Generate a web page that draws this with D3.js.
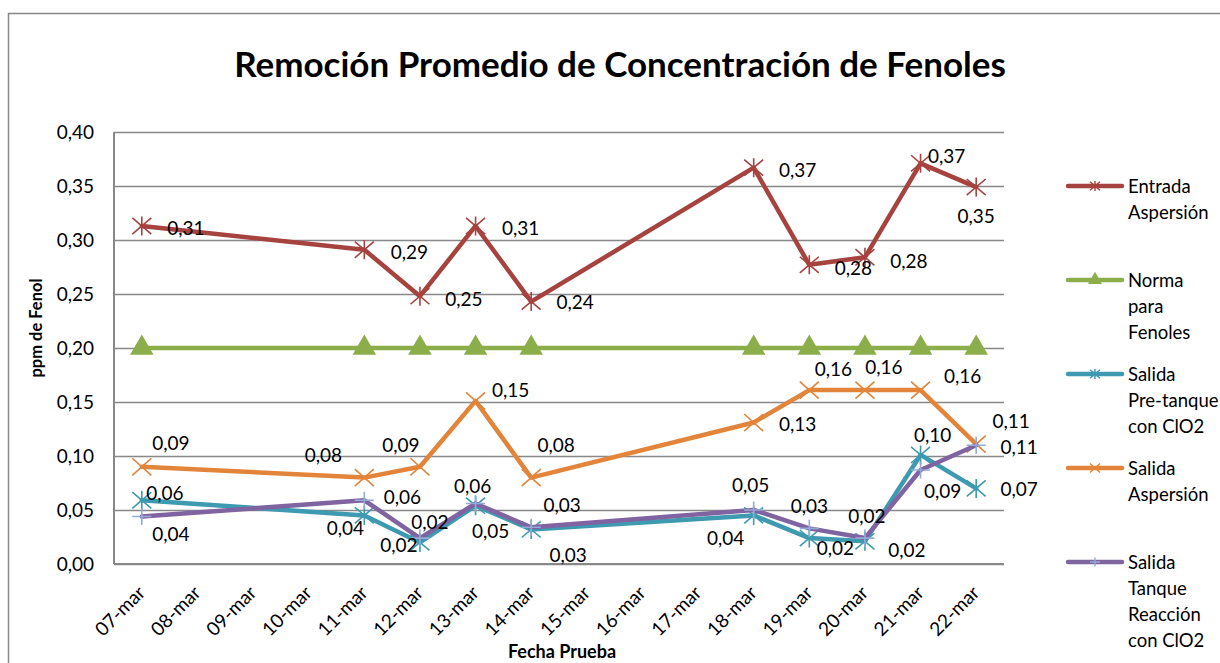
<!DOCTYPE html>
<html>
<head>
<meta charset="utf-8">
<script src="https://cdnjs.cloudflare.com/ajax/libs/d3/7.8.5/d3.min.js"></script>
<style>
    body { margin: 0; background: #ffffff; }
    svg { display: block; font-family: Lato, "Open Sans", sans-serif; }
</style>
</head>
<body>
<div id="chart"></div>
<script>

// categories (every day shown on the axis)
const dates = ["07-mar", "08-mar", "09-mar", "10-mar", "11-mar", "12-mar", "13-mar", "14-mar",
    "15-mar", "16-mar", "17-mar", "18-mar", "19-mar", "20-mar", "21-mar", "22-mar"];

// days with measurements
const testDates = ["07-mar", "11-mar", "12-mar", "13-mar", "14-mar", "18-mar", "19-mar", "20-mar", "21-mar", "22-mar"];

const seriesNames = ["Entrada Aspersión", "Norma para Fenoles", "Salida Pre-tanque con ClO2",
    "Salida Aspersión", "Salida Tanque Reacción con ClO2"];

const entradaAspersion = [0.313, 0.291, 0.248, 0.313, 0.243, 0.367, 0.277, 0.284, 0.371, 0.349];
const normaFenoles     = [0.20, 0.20, 0.20, 0.20, 0.20, 0.20, 0.20, 0.20, 0.20, 0.20];
const salidaPreTanque  = [0.059, 0.045, 0.020, 0.054, 0.032, 0.045, 0.024, 0.021, 0.101, 0.070];
const salidaAspersion  = [0.090, 0.080, 0.090, 0.151, 0.080, 0.131, 0.161, 0.161, 0.161, 0.111];
const salidaTanque     = [0.044, 0.059, 0.024, 0.056, 0.034, 0.050, 0.033, 0.024, 0.087, 0.110];

const yTicks = [0, 0.05, 0.10, 0.15, 0.20, 0.25, 0.30, 0.35, 0.40];

// where Excel dropped each data label, relative to its point [dx, dy]
const labelOffsets = {
    entrada: [[44, 2], [45, 2], [44, 2], [45, 2], [44, 0], [44, 2], [44, 3], [44, 3], [26, -8], [0, 28]],
    preTanque: [[23, -8], [-19, 12], [-21, 2], [15, 25], [37, 25], [-28, 22], [26, 9], [42, 8], [12, -20], [43, 0]],
    aspersion: [[29, -24], [-41, -23], [-19, -22], [35, -11], [25, -33], [44, 1], [24, -22], [19, -24], [42, -15], [35, -24]],
    tanque: [[29, 17], [38, -4], [10, -17], [-3, -18], [31, -23], [-3, -26], [0, -23], [2, -23], [22, 20], [43, 1]]
};

const series = [
    {key: "entrada", name: seriesNames[0], values: entradaAspersion, color: "#A7433F", marker: "star", markerColor: "#A7433F", labels: true},
    {key: "norma", name: seriesNames[1], values: normaFenoles, color: "#8BAE4A", marker: "triangle", markerColor: "#8BAE4A", labels: false},
    {key: "preTanque", name: seriesNames[2], values: salidaPreTanque, color: "#3D9AB1", marker: "star", markerColor: "#3D9AB1", labels: true},
    {key: "aspersion", name: seriesNames[3], values: salidaAspersion, color: "#E2843A", marker: "x", markerColor: "#E2843A", labels: true},
    {key: "tanque", name: seriesNames[4], values: salidaTanque, color: "#8063A1", marker: "plus", markerColor: "#94AAD8", labels: true}
];

// legend text broken the way the original wraps it
const legendLines = [["Entrada", "Aspersión"], ["Norma", "para", "Fenoles"], ["Salida", "Pre-tanque", "con ClO2"],
    ["Salida", "Aspersión"], ["Salida", "Tanque", "Reacción", "con ClO2"]];

const width = 1220, height = 663;
const margin = {top: 132, right: 216, bottom: 99, left: 114};
const grey = "#888888";
const numSize = 19;

let fmt = d3.formatLocale({decimal: ",", thousands: ".", grouping: [3], currency: ["", ""]}).format(".2f");

let svg = d3.select("#chart").append("svg")
    .attr("width", width)
    .attr("height", height);

// chart frame
svg.append("rect")
    .attr("x", 8.5).attr("y", 13.5)
    .attr("width", width + 20).attr("height", height + 20)
    .attr("fill", "none")
    .attr("stroke", grey)
    .attr("stroke-width", 1.5);

// scales
let x = d3.scalePoint()
    .domain(dates)
    .range([margin.left, width - margin.right])
    .padding(0.5);

let y = d3.scaleLinear()
    .domain([0, 0.4])
    .range([height - margin.bottom, margin.top]);

// gridlines + y axis
let yAxis = d3.axisLeft(y)
    .tickValues(yTicks)
    .tickSize(-(width - margin.right - margin.left))
    .tickPadding(20)
    .tickFormat(fmt);

let gy = svg.append("g")
    .attr("transform", `translate(${margin.left},0)`)
    .call(yAxis);
gy.select(".domain").remove();
gy.selectAll(".tick line").attr("stroke", grey).attr("stroke-width", 1.5);
gy.selectAll(".tick text")
    .attr("font-size", numSize)
    .attr("font-family", "Lato")
    .attr("fill", "#000");

// x axis
let xAxis = d3.axisBottom(x).tickSize(0).tickSizeOuter(0);
let gx = svg.append("g")
    .attr("transform", `translate(0,${y(0)})`)
    .call(xAxis);
gx.select(".domain").remove();
gx.selectAll(".tick text")
    .attr("font-size", numSize)
    .attr("font-family", "Lato")
    .attr("fill", "#000")
    .attr("text-anchor", "end")
    .attr("dy", null)
    .attr("y", 0)
    .attr("transform", "translate(4,30) rotate(-45)");

// axis lines (left + bottom)
svg.append("line")
    .attr("x1", margin.left).attr("x2", margin.left)
    .attr("y1", margin.top).attr("y2", y(0))
    .attr("stroke", grey).attr("stroke-width", 2);
svg.append("line")
    .attr("x1", margin.left).attr("x2", width - margin.right)
    .attr("y1", y(0)).attr("y2", y(0))
    .attr("stroke", grey).attr("stroke-width", 2);

// marker shapes
function markerPath(type, s) {
    if (type === "star") return `M${-s},${-s * 0.85}L${s},${s * 0.85}M${-s},${s * 0.85}L${s},${-s * 0.85}M0,${-s}L0,${s}`;
    if (type === "x") return `M${-s},${-s * 0.9}L${s},${s * 0.9}M${-s},${s * 0.9}L${s},${-s * 0.9}`;
    if (type === "plus") return `M${-s},0L${s},0M0,${-s * 0.9}L0,${s * 0.9}`;
    return d3.symbol().type(d3.symbolTriangle).size(s * s * 2.4)();
}

let line = d3.line()
    .x((d, i) => x(testDates[i]))
    .y(d => y(d));

// lines and markers
series.forEach(s => {
    svg.append("path")
        .datum(s.values)
        .attr("d", line)
        .attr("fill", "none")
        .attr("stroke", s.color)
        .attr("stroke-width", 4.5)
        .attr("stroke-linejoin", "round")
        .attr("stroke-linecap", "round");

    svg.append("g").selectAll("path")
        .data(s.values)
        .enter()
        .append("path")
        .attr("transform", (d, i) => `translate(${x(testDates[i])},${y(d)})`)
        .attr("d", markerPath(s.marker, s.marker === "triangle" ? 10 : 9.5))
        .attr("fill", s.marker === "triangle" ? s.markerColor : "none")
        .attr("stroke", s.markerColor)
        .attr("stroke-width", s.marker === "triangle" ? 0 : 1.6);
});

// data labels
series.filter(s => s.labels).forEach(s => {
    svg.append("g").selectAll("text")
        .data(s.values)
        .enter()
        .append("text")
        .attr("x", (d, i) => x(testDates[i]) + labelOffsets[s.key][i][0])
        .attr("y", (d, i) => y(d) + labelOffsets[s.key][i][1])
        .attr("text-anchor", "middle")
        .attr("dominant-baseline", "central")
        .attr("font-size", numSize)
        .attr("fill", "#000")
        .text(d => fmt(d));
});

// title
svg.append("text")
    .attr("x", 620)
    .attr("y", 77)
    .attr("text-anchor", "middle")
    .attr("font-size", 35)
    .attr("font-weight", "bold")
    .text("Remoción Promedio de Concentración de Fenoles");

// axis titles
svg.append("text")
    .attr("transform", "translate(42,328) rotate(-90)")
    .attr("text-anchor", "middle")
    .attr("font-size", 16.5)
    .attr("font-weight", "bold")
    .text("ppm de Fenol");

svg.append("text")
    .attr("x", 562)
    .attr("y", 658)
    .attr("text-anchor", "middle")
    .attr("font-size", 18)
    .attr("font-weight", "bold")
    .text("Fecha Prueba");

// legend
let legend = svg.append("g").attr("transform", "translate(1068,186)");
series.forEach((s, i) => {
    let g = legend.append("g").attr("transform", `translate(0,${i * 94})`);
    g.append("line")
        .attr("x1", 0).attr("x2", 54)
        .attr("stroke", s.color)
        .attr("stroke-width", 4.5)
        .attr("stroke-linecap", "round");
    g.append("path")
        .attr("transform", "translate(27,0)")
        .attr("d", markerPath(s.marker, s.marker === "triangle" ? 6 : 5))
        .attr("fill", s.marker === "triangle" ? s.markerColor : "none")
        .attr("stroke", s.markerColor)
        .attr("stroke-width", s.marker === "triangle" ? 0 : 1.4);
    g.selectAll("text")
        .data(legendLines[i])
        .enter()
        .append("text")
        .attr("x", 60)
        .attr("y", (d, j) => j * 26)
        .attr("dominant-baseline", "central")
        .attr("font-size", 18.5)
        .text(d => d);
});

</script>
</body>
</html>
